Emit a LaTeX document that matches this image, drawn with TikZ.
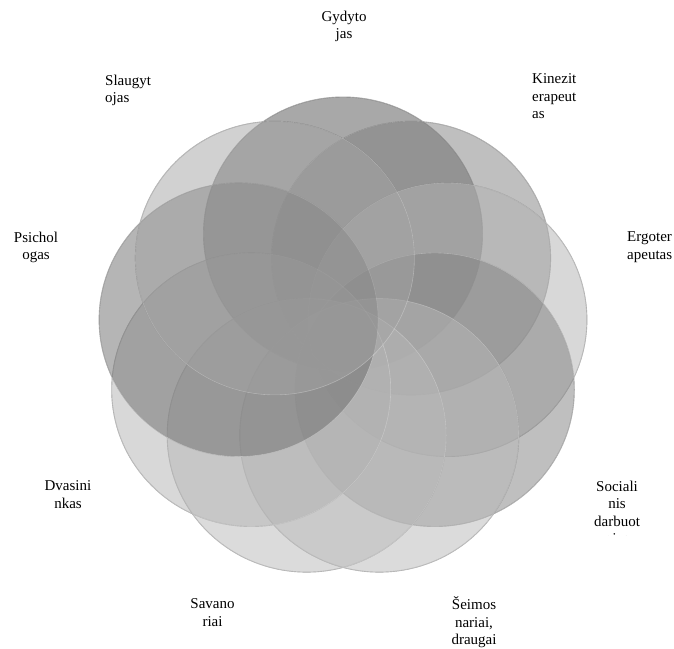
\documentclass[tikz,border=0pt]{standalone}
\usepackage{fontspec}
\setmainfont{Liberation Serif}
\usetikzlibrary{shapes.geometric}
\definecolor{cG}{gray}{0.32}
\definecolor{cK}{gray}{0.50}
\definecolor{cE}{gray}{0.70}
\definecolor{cS}{gray}{0.50}
\definecolor{cSe}{gray}{0.72}
\definecolor{cSa}{gray}{0.72}
\definecolor{cD}{gray}{0.70}
\definecolor{cP}{gray}{0.42}
\definecolor{cSl}{gray}{0.64}
\tikzset{
  petalshape/.style={ellipse, inner sep=0pt, minimum width=279pt, minimum height=273.6pt},
  rim/.style={petalshape, draw=black!55, draw opacity=0.7, line width=0.9pt},
  petal/.style={petalshape, fill=#1, fill opacity=0.5, draw=white, draw opacity=0.3, line width=0.6pt},
  lbl/.style={inner sep=0pt, font=\fontsize{15}{17.5}\selectfont, text=black},
}
\begin{document}
\begin{tikzpicture}[x=1pt,y=-1pt]
\useasboundingbox (0,0) rectangle (674,648);
% outer rims (mostly covered by the fills drawn above them)
\node[rim] (rg)  at (343.0,233.8) {};
\node[rim] (rk)  at (411.1,258.1) {};
\node[rim] (re)  at (447.4,319.7) {};
\node[rim] (rs)  at (434.8,389.7) {};
\node[rim] (rse) at (379.3,435.3) {};
\node[rim] (rsa) at (306.7,435.3) {};
\node[rim] (rd)  at (251.2,389.7) {};
\node[rim] (rp)  at (238.6,319.7) {};
\node[rim] (rsl) at (274.9,258.1) {};
% circles, drawn in order
\node[petal=cG]  (cg)  at (343.0,233.8) {};
\node[petal=cK]  (ck)  at (411.1,258.1) {};
\node[petal=cE]  (ce)  at (447.4,319.7) {};
\node[petal=cS]  (cs)  at (434.8,389.7) {};
\node[petal=cSe] (cse) at (379.3,435.3) {};
\node[petal=cSa] (csa) at (306.7,435.3) {};
\node[petal=cD]  (cd)  at (251.2,389.7) {};
\node[petal=cP]  (cp)  at (238.6,319.7) {};
\node[petal=cSl] (csl) at (274.9,258.1) {};
% labels
\node[lbl, anchor=north, align=center] (lg) at (344,10.5) {Gydyto\\jas};
\node[lbl, anchor=north west, align=left] (lk) at (532,73.5) {Kinezit\\erapeut\\as};
\node[lbl, anchor=north west, align=left] (le) at (627,231.5) {Ergoter\\apeutas};
\begin{scope}
\clip (570,470) rectangle (674,535);
\node[lbl, anchor=north, align=center] (ls) at (617,480.5) {Sociali\\nis\\darbuot\\ojas};
\end{scope}
\node[lbl, anchor=north, align=center] (lse) at (474,596.5) {Šeimos\\nariai,\\draugai};
\node[lbl, anchor=north, align=center] (lsa) at (212.5,598.5) {Savano\\riai};
\node[lbl, anchor=north, align=center] (ld) at (68,480.5) {Dvasini\\nkas};
\node[lbl, anchor=north, align=center] (lp) at (36,231.5) {Psichol\\ogas};
\node[lbl, anchor=north west, align=left] (lsl) at (105,74.5) {Slaugyt\\ojas};
\end{tikzpicture}
\end{document}
